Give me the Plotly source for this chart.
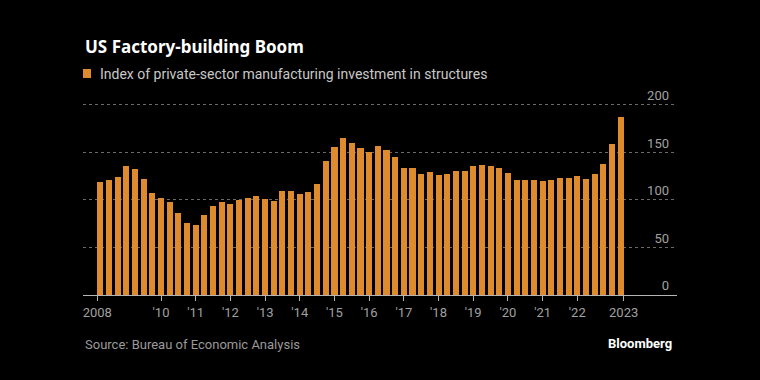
import plotly.graph_objects as go

quarters = [f"{y} Q{q}" for y in range(2008, 2024) for q in range(1, 5)][:61]
values = [118.4, 121.3, 123.8, 135.5, 132.6, 122.0, 107.1, 102.1, 97.9, 86.2,
          75.5, 73.4, 83.7, 93.6, 97.9, 95.7, 100.4, 101.8, 104.3, 101.1,
          99.3, 109.6, 108.9, 106.4, 108.2, 117.0, 141.1, 155.3, 164.9, 160.3,
          154.6, 150.7, 156.4, 152.8, 145.0, 133.3, 133.7, 127.7, 129.1, 126.6,
          127.0, 130.5, 130.1, 135.4, 136.6, 135.5, 133.6, 127.9, 120.8, 120.5,
          120.5, 119.4, 120.8, 123.0, 123.0, 125.4, 121.6, 127.6, 137.8, 159.0,
          187.6]
x_tick_labels = ["2008", "'10", "'11", "'12", "'13", "'14", "'15", "'16", "'17",
                 "'18", "'19", "'20", "'21", "'22", "2023"]
y_ticks = [0, 50, 100, 150, 200]

ORANGE = "#DE8B2D"
idx = list(range(len(values)))
# tick positions: left edge of first bar, each year start, right edge of last bar
x_tick_pos = [-0.35] + [7 + 4 * k for k in range(13)] + [len(values) - 1 + 0.35]

fig = go.Figure(go.Bar(x=idx, y=values, width=0.7, marker_color=ORANGE,
                       marker_line_width=0, hovertext=quarters,
                       name="Index of private-sector manufacturing investment in structures"))

W, H = 760, 380
L, R, T, B = 83, 83, 81, 85
PW, PH = W - L - R, H - T - B

def px(xp):
    return (xp - L) / PW

def py(yp):
    return (H - B - yp) / PH

FONT = "Liberation Sans Narrow, Roboto, Noto Sans, sans-serif"

fig.update_layout(
    width=W, height=H, margin=dict(l=L, r=R, t=T, b=B),
    paper_bgcolor="#000000", plot_bgcolor="#000000",
    showlegend=False, bargap=0,
    font=dict(family=FONT, color="#9a9a9a", size=13),
    xaxis=dict(range=[-2, 66.5], tickvals=x_tick_pos, ticktext=x_tick_labels,
               showgrid=False, zeroline=False, showline=True, linecolor="#b5b5b5",
               linewidth=1, ticks="outside", ticklen=5, tickcolor="#b5b5b5",
               tickfont=dict(size=13, color="#a0a0a0")),
    yaxis=dict(range=[0, 225], tickvals=y_ticks, side="right",
               ticklabelposition="inside top", showgrid=True, gridcolor="#6a6a6a",
               griddash="dot", gridwidth=1, zeroline=False, showline=False,
               ticklabelstandoff=5,
               tickfont=dict(size=13, color="#a0a0a0")),
)

fig.add_annotation(xref="paper", yref="paper", x=px(83), y=py(46), xanchor="left",
                   yanchor="middle", showarrow=False,
                   text="<b>US Factory-building Boom</b>",
                   font=dict(family="Noto Sans, sans-serif", size=17, color="#ffffff"))
fig.add_shape(type="rect", xref="paper", yref="paper", x0=px(83), x1=px(91),
              y0=py(78), y1=py(69), fillcolor=ORANGE, line_width=0)
fig.add_annotation(xref="paper", yref="paper", x=px(98), y=py(74), xanchor="left",
                   yanchor="middle", showarrow=False,
                   text="Index of private-sector manufacturing investment in structures",
                   font=dict(size=14, color="#c8c8c8"))
fig.add_annotation(xref="paper", yref="paper", x=px(83), y=py(344), xanchor="left",
                   yanchor="middle", showarrow=False,
                   text="Source: Bureau of Economic Analysis",
                   font=dict(size=13, color="#9a9a9a"))
fig.add_annotation(xref="paper", yref="paper", x=px(674), y=py(343), xanchor="right",
                   yanchor="middle", showarrow=False, text="<b>Bloomberg</b>",
                   font=dict(size=13, color="#ffffff"))

fig.write_html("out.html", config={"displayModeBar": False},
               post_script="document.body.style.margin='0';"
                           "document.body.style.background='#000';")
